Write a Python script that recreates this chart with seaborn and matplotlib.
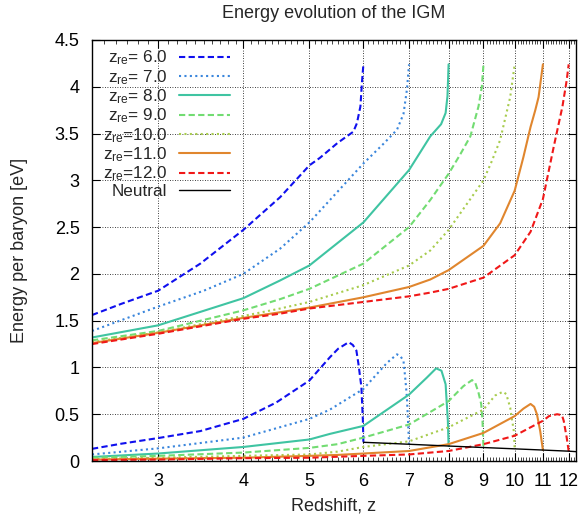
import matplotlib
matplotlib.use("Agg")
import matplotlib.pyplot as plt
import numpy as np
import pandas as pd
import seaborn as sns
from matplotlib.ticker import FixedLocator, FixedFormatter, NullFormatter

# ---------------- data ----------------
z_re_values = [6.0, 7.0, 8.0, 9.0, 10.0, 11.0, 12.0]

# upper branch per z_re
up_z6 = [2.4, 2.65, 3.0, 3.46, 4.0, 4.53, 5.0, 5.18, 5.5, 5.8, 5.87, 5.94, 5.97, 6.0]
up_e6 = [1.56, 1.68, 1.82, 2.11, 2.47, 2.82, 3.16, 3.24, 3.40, 3.52, 3.61, 3.79, 4.04, 4.24]
up_z7 = [2.4, 3.0, 3.5, 4.0, 4.53, 5.0, 6.0, 6.42, 6.72, 6.87, 6.95, 7.0]
up_e7 = [1.39, 1.65, 1.82, 2.0, 2.27, 2.55, 3.18, 3.39, 3.54, 3.71, 3.97, 4.24]
up_z8 = [2.4, 3.0, 4.0, 4.53, 5.0, 6.0, 7.0, 7.52, 7.8, 7.92, 7.97, 8.0]
up_e8 = [1.32, 1.45, 1.74, 1.93, 2.09, 2.55, 3.11, 3.47, 3.6, 3.72, 3.9, 4.24]
up_z9 = [2.4, 3.0, 4.0, 4.53, 5.0, 6.0, 7.0, 7.52, 8.0, 8.31, 8.61, 8.85, 8.95, 9.0]
up_e9 = [1.29, 1.39, 1.61, 1.73, 1.84, 2.11, 2.50, 2.79, 3.07, 3.27, 3.47, 3.79, 4.0, 4.24]
up_z10 = [2.4, 3.0, 4.0, 4.53, 5.0, 6.0, 7.0, 7.52, 8.0, 9.0, 9.25, 9.52, 9.85, 10.0]
up_e10 = [1.27, 1.375, 1.55, 1.63, 1.70, 1.88, 2.09, 2.25, 2.47, 3.0, 3.2, 3.43, 3.89, 4.24]
up_z11 = [2.4, 3.0, 4.0, 4.53, 5.0, 6.0, 7.0, 7.52, 8.0, 9.0, 9.52, 10.0, 10.3, 10.55, 10.72, 10.84, 11.0]
up_e11 = [1.26, 1.37, 1.53, 1.59, 1.64, 1.75, 1.86, 1.94, 2.04, 2.30, 2.54, 2.89, 3.25, 3.57, 3.75, 3.89, 4.24]
up_z12 = [2.4, 3.0, 4.0, 4.53, 5.0, 6.0, 7.0, 7.52, 8.0, 9.0, 10.0, 10.55, 11.0, 11.41, 11.75, 11.92, 12.0]
up_e12 = [1.25, 1.36, 1.52, 1.575, 1.63, 1.70, 1.76, 1.80, 1.84, 1.96, 2.20, 2.45, 2.80, 3.36, 3.79, 4.07, 4.24]

# lower branch per z_re
lo_z6 = [2.4, 2.65, 3.0, 3.46, 4.0, 4.47, 5.0, 5.36, 5.51, 5.71, 5.79, 5.86, 5.9, 5.96, 5.99, 6.0]
lo_e6 = [0.13, 0.185, 0.245, 0.32, 0.45, 0.625, 0.86, 1.11, 1.20, 1.27, 1.24, 1.18, 1.04, 0.79, 0.43, 0.20]
lo_z7 = [2.4, 3.0, 4.0, 5.0, 5.36, 6.0, 6.5, 6.72, 6.8, 6.87, 6.91, 6.95, 7.0]
lo_e7 = [0.07, 0.135, 0.25, 0.45, 0.55, 0.77, 1.05, 1.14, 1.12, 1.07, 0.89, 0.68, 0.18]
lo_z8 = [2.4, 3.0, 4.0, 5.0, 5.36, 6.0, 7.0, 7.43, 7.67, 7.81, 7.92, 7.95, 7.98, 8.0]
lo_e8 = [0.043, 0.08, 0.15, 0.23, 0.29, 0.375, 0.71, 0.89, 0.99, 0.965, 0.82, 0.62, 0.43, 0.16]
lo_z9 = [2.4, 3.0, 4.0, 5.0, 5.5, 6.0, 7.0, 8.0, 8.41, 8.66, 8.75, 8.85, 8.93, 8.97, 9.0]
lo_e9 = [0.035, 0.055, 0.09, 0.14, 0.18, 0.25, 0.39, 0.64, 0.80, 0.865, 0.84, 0.73, 0.61, 0.43, 0.144]
lo_z10 = [2.4, 3.0, 4.0, 5.0, 5.5, 6.0, 7.0, 8.0, 9.0, 9.36, 9.61, 9.72, 9.85, 9.97, 10.0]
lo_e10 = [0.02, 0.035, 0.055, 0.07, 0.10, 0.15, 0.21, 0.36, 0.55, 0.70, 0.74, 0.715, 0.57, 0.32, 0.13]
lo_z11 = [2.4, 3.0, 4.0, 5.0, 5.5, 6.0, 7.0, 8.0, 9.0, 10.0, 10.3, 10.55, 10.68, 10.78, 10.9, 11.0]
lo_e11 = [0.015, 0.025, 0.035, 0.055, 0.065, 0.08, 0.107, 0.18, 0.30, 0.48, 0.56, 0.61, 0.58, 0.50, 0.32, 0.117]
lo_z12 = [2.4, 3.0, 4.0, 5.0, 6.0, 7.0, 8.0, 9.0, 10.0, 11.0, 11.23, 11.54, 11.73, 11.8, 11.92, 12.0]
lo_e12 = [0.01, 0.015, 0.03, 0.035, 0.055, 0.07, 0.107, 0.18, 0.27, 0.43, 0.48, 0.50, 0.49, 0.43, 0.25, 0.105]

# neutral IGM
neutral_z = [6.0, 7.0, 8.0, 9.0, 10.0, 11.0, 12.0, 12.3]
neutral_e = [0.200, 0.179, 0.160, 0.144, 0.130, 0.117, 0.105, 0.100]

x_ticks = [3, 4, 5, 6, 7, 8, 9, 10, 11, 12]
y_ticks = [0, 0.5, 1, 1.5, 2, 2.5, 3, 3.5, 4, 4.5]

upper = [(up_z6, up_e6), (up_z7, up_e7), (up_z8, up_e8), (up_z9, up_e9),
         (up_z10, up_e10), (up_z11, up_e11), (up_z12, up_e12)]
lower = [(lo_z6, lo_e6), (lo_z7, lo_e7), (lo_z8, lo_e8), (lo_z9, lo_e9),
         (lo_z10, lo_e10), (lo_z11, lo_e11), (lo_z12, lo_e12)]

colors = ["#1010ee", "#3a86dc", "#3fc4a2", "#72dc72", "#a8cc4e", "#e0862e", "#f01818"]
styles = [(0, (3, 1.6)), (0, (1, 1.6)), "-", (0, (3, 1.6)), (0, (1, 1.6)), "-", (0, (3, 1.6))]

# ---------------- figure ----------------
sns.set_theme(style="ticks")
plt.rcParams["font.family"] = ["Liberation Sans", "DejaVu Sans"]
plt.rcParams["mathtext.fontset"] = "custom"
plt.rcParams["mathtext.rm"] = "Liberation Sans"
plt.rcParams["mathtext.it"] = "Liberation Sans:italic"

fig = plt.figure(figsize=(5.8, 5.2), dpi=100)
ax = fig.add_axes([92 / 580, 1 - 461 / 520, (576 - 92) / 580, (461 - 40) / 520])

handles = []
for i, zr in enumerate(z_re_values):
    zu, eu = upper[i]
    zl, el = lower[i]
    sns.lineplot(x=zu, y=eu, ax=ax, color=colors[i], linestyle=styles[i],
                 linewidth=1.5, sort=False, estimator=None)
    sns.lineplot(x=zl, y=el, ax=ax, color=colors[i], linestyle=styles[i],
                 linewidth=1.5, sort=False, estimator=None)
    handles.append(ax.lines[-1])
sns.lineplot(x=neutral_z, y=neutral_e, ax=ax, color="black", linewidth=1.0,
             sort=False, estimator=None)
handles.append(ax.lines[-1])

ax.set_xscale("log")
ax.set_xlim(2.4, 12.3)
ax.set_ylim(0, 4.5)
ax.xaxis.set_major_locator(FixedLocator(x_ticks))
ax.xaxis.set_major_formatter(FixedFormatter([str(t) for t in x_ticks]))
ax.xaxis.set_minor_locator(FixedLocator(list(np.arange(2.5, 12.3, 0.1))))
ax.xaxis.set_minor_formatter(NullFormatter())
ax.set_yticks(y_ticks)
ax.set_yticklabels([f"{t:g}" for t in y_ticks])

ax.grid(True, which="major", color="black", linestyle=(0, (1, 2)), linewidth=0.6)
ax.set_axisbelow(True)
for sp in ax.spines.values():
    sp.set_color("black")
    sp.set_linewidth(1.0)
    sp.set_visible(True)
ax.tick_params(which="major", direction="in", top=True, right=True, length=6,
               width=0.8, labelsize=13, pad=9, colors="black")
ax.tick_params(which="minor", direction="in", top=True, right=True, length=3,
               width=0.6)

ax.set_title("Energy evolution of the IGM", fontsize=13, pad=16)
ax.set_xlabel("Redshift, z", fontsize=13, labelpad=5)
ax.set_ylabel("Energy per baryon [eV]", fontsize=13, labelpad=19)

labels = [r"$\mathregular{z_{re}}$=" + (" " if zr < 10 else "") + f"{zr:.1f}" for zr in z_re_values]
labels.append("Neutral")
leg = ax.legend(handles, labels, loc="upper left", bbox_to_anchor=(0.012, 0.992),
                frameon=False, markerfirst=False, fontsize=12.3, handlelength=2.95,
                handletextpad=0.7, labelspacing=0.04, borderpad=0.3,
                borderaxespad=0.0)
vp = leg._legend_box._children[-1]._children[0]
vp.align = "right"

fig.savefig("out.png", dpi=100)
